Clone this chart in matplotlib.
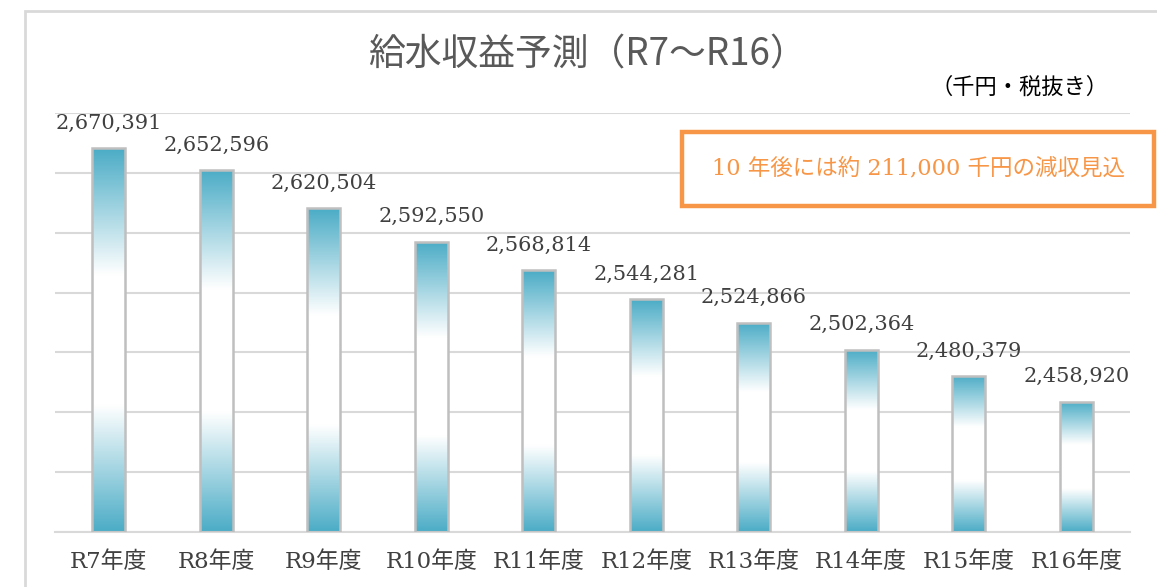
import numpy as np
import matplotlib
matplotlib.use("Agg")
import matplotlib.pyplot as plt
from matplotlib.patches import Rectangle
from matplotlib.colors import LinearSegmentedColormap

categories = ["R7年度", "R8年度", "R9年度", "R10年度", "R11年度",
              "R12年度", "R13年度", "R14年度", "R15年度", "R16年度"]
values = [2670391, 2652596, 2620504, 2592550, 2568814,
          2544281, 2524866, 2502364, 2480379, 2458920]
title = "給水収益予測（R7～R16）"
unit_label = "（千円・税抜き）"
note = "10 年後には約 211,000 千円の減収見込"

W, H = 1157, 587
fig = plt.figure(figsize=(W / 100, H / 100), dpi=100)
fig.patch.set_facecolor("white")

# outer chart frame (cut off at right and bottom)
fig.patches.append(Rectangle((25 / W, -0.05), 1.1, 1 - 11 / H + 0.05,
                             transform=fig.transFigure, fill=False,
                             edgecolor="#D9D9D9", linewidth=2.0, zorder=0))

ax = fig.add_axes([55 / W, 1 - 532 / H, (1130 - 55) / W, (532 - 113) / H])
ax.set_xlim(-0.5, len(categories) - 0.5)
ax.set_ylim(2350000, 2700000)
ax.set_yticks(np.arange(2350000, 2700001, 50000))
ax.yaxis.grid(True, color="#D9D9D9", linewidth=1.5)
ax.set_axisbelow(True)
for s in ["left", "right", "top"]:
    ax.spines[s].set_visible(False)
ax.spines["bottom"].set_color("#D9D9D9")
ax.spines["bottom"].set_linewidth(1.5)
ax.tick_params(axis="y", length=0, labelleft=False)
ax.tick_params(axis="x", length=0, pad=14)
ax.set_xticks(range(len(categories)))
ax.set_xticklabels(categories, fontsize=16.5, color="#404040",
                   family=["DejaVu Serif", "Noto Sans CJK JP"])

cmap = LinearSegmentedColormap.from_list(
    "bar", [(0.0, "#4BACC6"), (0.33, "#FFFFFF"), (0.67, "#FFFFFF"), (1.0, "#4BACC6")])
grad = np.linspace(0, 1, 256).reshape(-1, 1)

width = 0.31
bottom = 2350000
for i, v in enumerate(values):
    rect = Rectangle((i - width / 2, bottom), width, v - bottom,
                     facecolor="none", edgecolor="#BFBFBF", linewidth=1.8, zorder=3)
    im = ax.imshow(grad, cmap=cmap, aspect="auto", origin="upper",
                   extent=(i - width / 2, i + width / 2, bottom, v), zorder=2,
                   interpolation="bilinear")
    ax.add_patch(rect)
    im.set_clip_path(rect)
    ax.annotate(f"{v:,}", (i, v), xytext=(0, 11), textcoords="offset points",
                ha="center", va="bottom", fontsize=15, color="#404040",
                family="DejaVu Serif")
ax.set_xlim(-0.5, len(categories) - 0.5)
ax.set_ylim(2350000, 2700000)

fig.text(587 / W, 1 - 55 / H, title, ha="center", va="center", fontsize=26.5,
         color="#595959", family=["Noto Sans CJK JP", "DejaVu Sans"])
fig.text(1020 / W, 1 - 87 / H, unit_label, ha="center", va="center", fontsize=16,
         color="#000000", family=["Noto Sans CJK JP", "DejaVu Sans"])

fig.patches.append(Rectangle((682 / W, 1 - 206 / H), (1154 - 682) / W, (206 - 132) / H,
                             transform=fig.transFigure, facecolor="white",
                             edgecolor="#F79646", linewidth=3.2, zorder=5))
fig.text(919 / W, 1 - 168 / H, note, ha="center", va="center", fontsize=16.2,
         color="#F79646", family=["DejaVu Serif", "Noto Sans CJK JP"], zorder=6)

fig.savefig("out.png", dpi=100, facecolor="white")
